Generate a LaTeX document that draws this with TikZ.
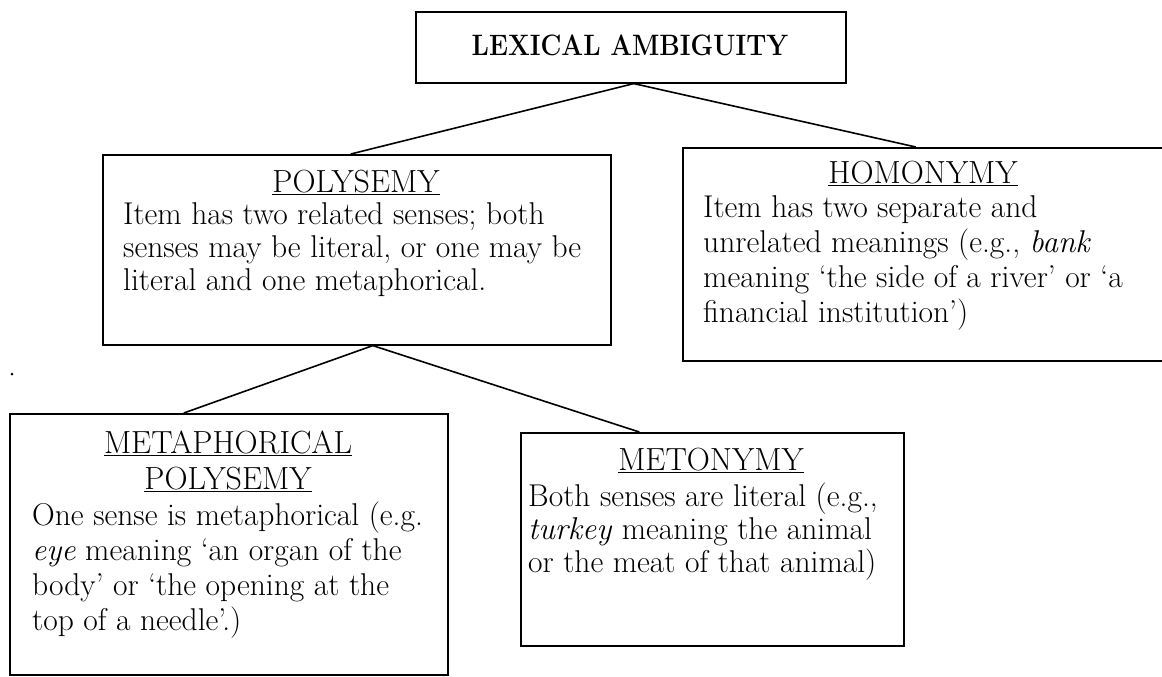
\documentclass[tikz,border=0pt]{standalone}
\usepackage{fontspec}
\setmainfont{Latin Modern Roman}
\usetikzlibrary{calc}
\tikzset{
  boxframe/.style={draw, line width=1.6pt, rectangle, inner sep=0pt, anchor=north west},
  linkline/.style={line width=1.6pt},
  headtext/.style={anchor=base, inner sep=0pt, font=\fontsize{32}{36}\selectfont},
  bodytext/.style={anchor=base west, inner sep=0pt, font=\fontsize{31.5}{#1}\selectfont},
  bodytext/.default=34,
}
\begin{document}
\begin{tikzpicture}[x=1pt,y=-1pt]
\useasboundingbox (0,0) rectangle (1162,677);
\fill[white] (0,0) rectangle (1162,677);
\clip (0,0) rectangle (1162,677);

% top concept
\node[boxframe, minimum width=430pt, minimum height=71pt] (lex) at (415,11) {};
\node[anchor=base, inner sep=0pt, font=\fontsize{29.5}{34}\selectfont\bfseries] (lextitle) at (630,56) {\scalebox{0.87}[1]{LEXICAL AMBIGUITY}};

% polysemy
\node[boxframe, minimum width=508pt, minimum height=190pt] (poly) at (102,154) {};
\node[headtext] (polyhead) at (356,192) {\underline{POLYSEMY}};
\node[bodytext=33] (polybody) at (123,224) {\begin{tabular}[t]{@{}l@{}}
Item has two related senses; both\\
senses may be literal, or one may be\\
literal and one metaphorical.
\end{tabular}};

% homonymy
\node[boxframe, minimum width=484pt, minimum height=213pt] (homo) at (682,147) {};
\node[headtext] (homohead) at (923,183) {\underline{HOMONYMY}};
\node[bodytext=35] (homobody) at (703,217) {\begin{tabular}[t]{@{}l@{}}
Item has two separate and\\
unrelated meanings (e.g., \textit{bank}\\
meaning ‘the side of a river’ or ‘a\\
financial institution’)
\end{tabular}};

% metaphorical polysemy
\node[boxframe, minimum width=438pt, minimum height=261pt] (meta) at (9,413) {};
\node[headtext] (metahead1) at (228,453) {\underline{METAPHORICAL}};
\node[headtext] (metahead2) at (228,489) {\underline{POLYSEMY}};
\node[bodytext=35] (metabody) at (32,525) {\begin{tabular}[t]{@{}l@{}}
One sense is metaphorical (e.g.\\
\textit{eye} meaning ‘an organ of the\\
body’ or ‘the opening at the\\
top of a needle’.)
\end{tabular}};

% metonymy
\node[boxframe, minimum width=383pt, minimum height=213pt] (meto) at (520,432) {};
\node[headtext] (metohead) at (711,470) {\underline{METONYMY}};
\node[bodytext=33] (metobody) at (528,506) {\begin{tabular}[t]{@{}l@{}}
Both senses are literal (e.g.,\\
\textit{turkey} meaning the animal\\
or the meat of that animal)
\end{tabular}};

% stray mark
\node[circle, fill, inner sep=0pt, minimum size=3pt] (speck) at (12,374) {};

% connectors
\coordinate (lexfoot) at ([xshift=3pt]lex.south);
\coordinate (polyfoot) at ([xshift=16pt]poly.south);
\draw[linkline] (lexfoot) -- ([xshift=-6pt]poly.north);
\draw[linkline] (lexfoot) -- ([xshift=-9pt]homo.north);
\draw[linkline] (polyfoot) -- ([xshift=-45pt]meta.north);
\draw[linkline] (polyfoot) -- ([xshift=-73pt]meto.north);
\end{tikzpicture}
\end{document}
